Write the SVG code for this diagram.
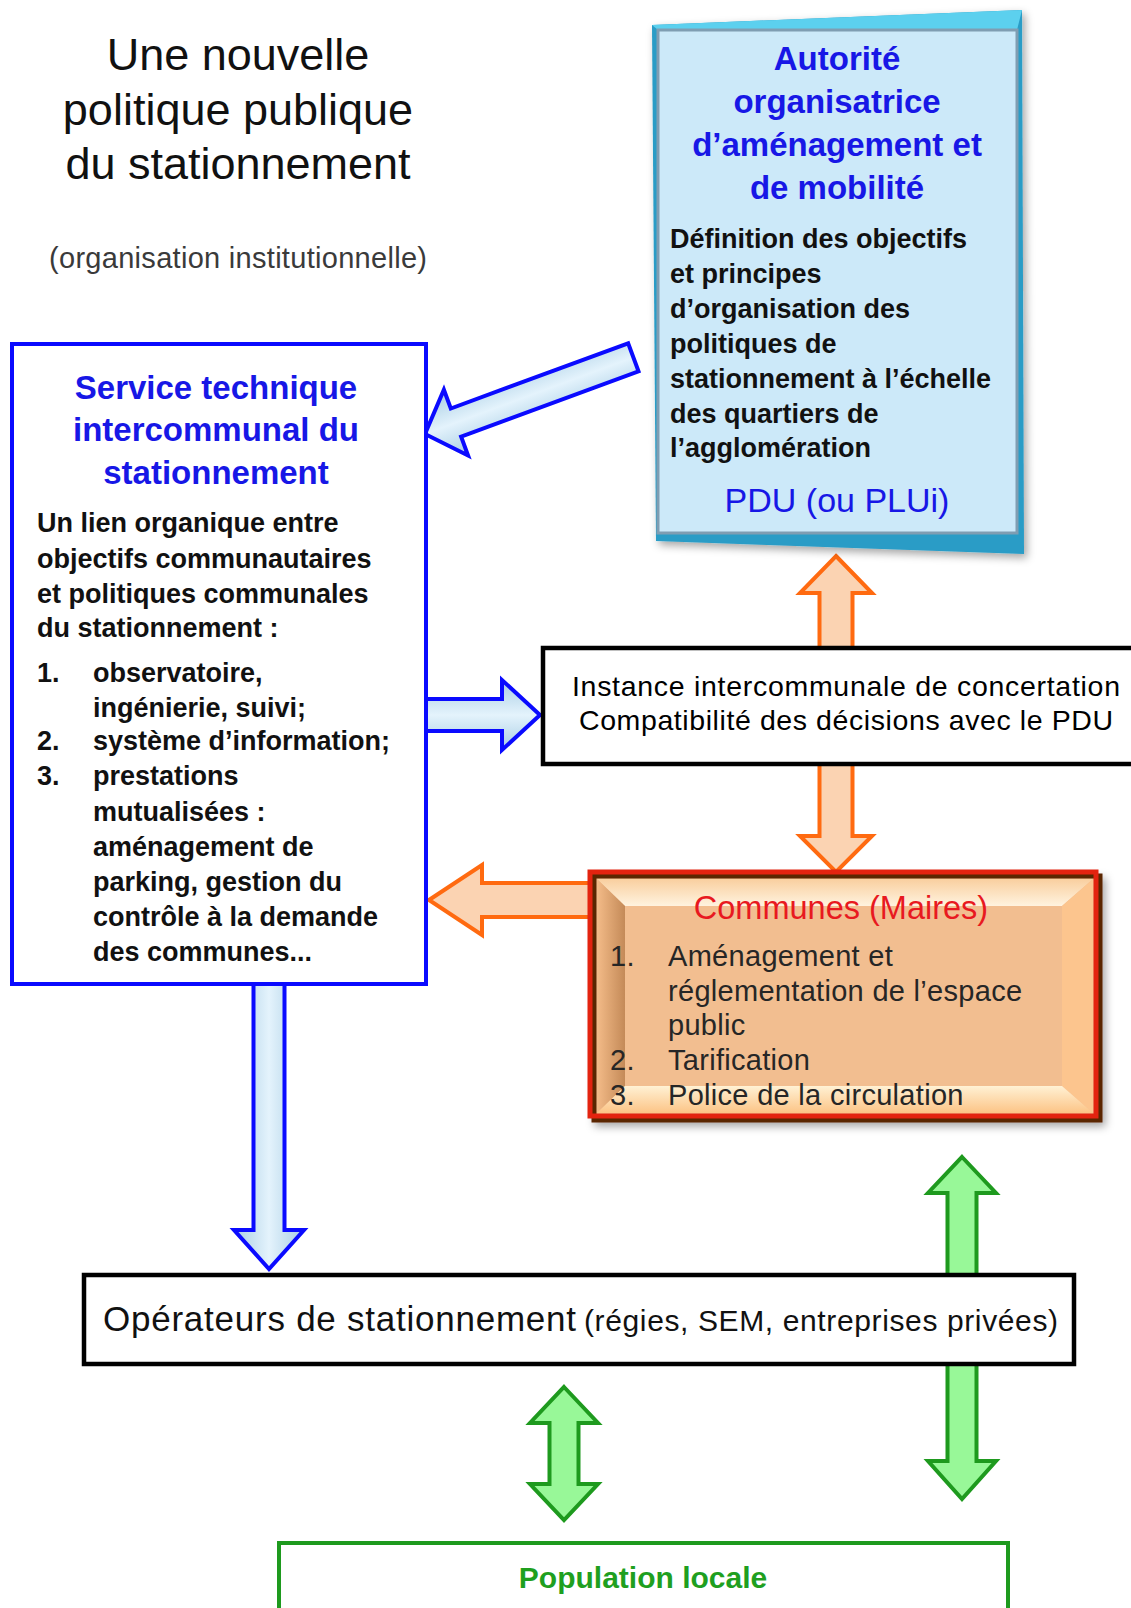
<svg xmlns="http://www.w3.org/2000/svg" width="1131" height="1608" viewBox="0 0 1131 1608">
<defs>
<style>
text{font-family:"Liberation Sans",Arial,sans-serif}
.title{font-size:45px;fill:#111;text-anchor:middle}
.sub{font-size:29px;fill:#3a3a3a;text-anchor:middle}
.bt{font-weight:bold;fill:#1717e6;text-anchor:middle;font-size:33px}
.body{font-weight:bold;fill:#111;font-size:27px}
.blue{fill:url(#gBlue);stroke:#0a0aff;stroke-width:4;stroke-linejoin:miter}
.orange{fill:#fbd3b2;stroke:#ff6a10;stroke-width:4}
.green{fill:#98f898;stroke:#1e9a1e;stroke-width:4}
.box{fill:#fff;stroke:#000;stroke-width:4.5}
.com{font-size:29px;fill:#262626;letter-spacing:0.3px}
</style>
<linearGradient id="gBlue" x1="0" y1="0" x2="0" y2="1">
<stop offset="0" stop-color="#a8cde4"/><stop offset="0.5" stop-color="#e4f3fc"/><stop offset="1" stop-color="#a8cde4"/>
</linearGradient>
<linearGradient id="gBlueH" x1="0" y1="0" x2="1" y2="0">
<stop offset="0" stop-color="#a8cde4"/><stop offset="0.5" stop-color="#e4f3fc"/><stop offset="1" stop-color="#a8cde4"/>
</linearGradient>
<linearGradient id="gTop" x1="0" y1="0" x2="0" y2="1">
<stop offset="0" stop-color="#f9cf9f"/><stop offset="1" stop-color="#fff3df"/>
</linearGradient>
<linearGradient id="gLeft" x1="0" y1="0" x2="1" y2="0">
<stop offset="0" stop-color="#f3bb88"/><stop offset="1" stop-color="#c48a58"/>
</linearGradient>
<linearGradient id="gBot" x1="0" y1="0" x2="0" y2="1">
<stop offset="0" stop-color="#fff1d4"/><stop offset="1" stop-color="#fcc486"/>
</linearGradient>
<filter id="sh" x="-10%" y="-10%" width="120%" height="120%">
<feDropShadow dx="3" dy="4" stdDeviation="4" flood-color="#000" flood-opacity="0.35"/>
</filter>
</defs>
<rect width="1131" height="1608" fill="#fff"/>

<g id="title">
<text class="title" x="238" y="70">Une nouvelle</text>
<text class="title" x="238" y="125">politique publique</text>
<text class="title" x="238" y="179">du stationnement</text>
<text class="sub" x="238" y="268" textLength="378" lengthAdjust="spacing">(organisation institutionnelle)</text>
</g>

<g id="connectors">
<polygon class="blue" points="0,0 -33,-35 -33,-15 -222,-15 -222,15 -33,15 -33,35" transform="translate(425,434) rotate(159.8)"/>
<polygon class="blue" points="426,699 502,699 502,680 540,715 502,750 502,731 426,731"/>
<polygon points="253.5,984 284.5,984 284.5,1230 304,1230 269,1269 234,1230 253.5,1230" style="fill:url(#gBlueH);stroke:#0a0aff;stroke-width:4"/>
<polygon class="orange" points="836,556 872,593 852.5,593 852.5,836 872,836 836,872 800,836 819.5,836 819.5,593 800,593"/>
<polygon class="orange" points="429,900 482,865 482,883 600,883 600,917 482,917 482,935"/>
<polygon class="green" points="962,1157 996,1193 976.5,1193 976.5,1461 996,1461 962,1499 928,1461 947.5,1461 947.5,1193 928,1193"/>
<polygon class="green" points="564,1387 598,1423 578.5,1423 578.5,1484 598,1484 564,1520 530,1484 549.5,1484 549.5,1423 530,1423"/>
</g>

<g id="autorite">
<g filter="url(#sh)">
<polygon points="652,25 1022,10 1024,554 656,541" fill="#2a9cc6"/>
<polygon points="652,25 1022,10 1017,30 658,30" fill="#5cd0ee"/>
<rect x="658" y="30" width="359" height="503" fill="#cce9f9" stroke="#7f9db2" stroke-width="3"/>
</g>
<text class="bt" x="837" y="70">Autorité</text>
<text class="bt" x="837" y="113">organisatrice</text>
<text class="bt" x="837" y="156">d’aménagement et</text>
<text class="bt" x="837" y="199">de mobilité</text>
<text class="body" x="670" y="248">Définition des objectifs</text>
<text class="body" x="670" y="283">et principes</text>
<text class="body" x="670" y="318">d’organisation des</text>
<text class="body" x="670" y="353">politiques de</text>
<text class="body" x="670" y="388">stationnement à l’échelle</text>
<text class="body" x="670" y="423">des quartiers de</text>
<text class="body" x="670" y="457">l’agglomération</text>
<text x="837" y="512" style="font-size:34px;fill:#1717e6;text-anchor:middle">PDU (ou PLUi)</text>
</g>

<g id="service">
<rect x="12" y="344" width="414" height="640" fill="#fff" stroke="#0a0aff" stroke-width="4"/>
<text class="bt" x="216" y="399">Service technique</text>
<text class="bt" x="216" y="441">intercommunal du</text>
<text class="bt" x="216" y="484">stationnement</text>
<text class="body" x="37" y="532">Un lien organique entre</text>
<text class="body" x="37" y="568">objectifs communautaires</text>
<text class="body" x="37" y="603">et politiques communales</text>
<text class="body" x="37" y="637">du stationnement :</text>
<text class="body" x="37" y="682">1.</text>
<text class="body" x="93" y="682">observatoire,</text>
<text class="body" x="93" y="717">ingénierie, suivi;</text>
<text class="body" x="37" y="750">2.</text>
<text class="body" x="93" y="750">système d’information;</text>
<text class="body" x="37" y="785">3.</text>
<text class="body" x="93" y="785">prestations</text>
<text class="body" x="93" y="821">mutualisées :</text>
<text class="body" x="93" y="856">aménagement de</text>
<text class="body" x="93" y="891">parking, gestion du</text>
<text class="body" x="93" y="926">contrôle à la demande</text>
<text class="body" x="93" y="961">des communes...</text>
</g>

<g id="instance">
<rect class="box" x="543" y="648" width="604" height="116"/>
<text x="846" y="696" textLength="548" lengthAdjust="spacing" style="font-size:28.5px;fill:#000;text-anchor:middle">Instance intercommunale de concertation</text>
<text x="846" y="730" textLength="534" lengthAdjust="spacing" style="font-size:28.5px;fill:#000;text-anchor:middle">Compatibilité des décisions avec le PDU</text>
</g>

<g id="communes">
<g filter="url(#sh)">
<rect x="594" y="876" width="506" height="244" fill="#f2bf92" stroke="#5a2600" stroke-width="5"/>
</g>
<polygon points="597,879 1093,879 1062,906 625,906" fill="url(#gTop)"/>
<polygon points="597,879 625,906 625,1086 597,1113" fill="url(#gLeft)"/>
<polygon points="1093,879 1093,1113 1062,1086 1062,906" fill="#fcc58e"/>
<polygon points="597,1113 1093,1113 1062,1086 625,1086" fill="url(#gBot)"/>
<rect x="625" y="906" width="437" height="180" fill="#f2be90"/>
<rect x="590" y="872" width="506" height="244" fill="none" stroke="#e3230f" stroke-width="5"/>
<text x="841" y="919" style="font-size:32.5px;fill:#e8191f;text-anchor:middle">Communes (Maires)</text>
<text class="com" x="610" y="966">1.</text>
<text class="com" x="668" y="966">Aménagement et</text>
<text class="com" x="668" y="1001">réglementation de l’espace</text>
<text class="com" x="668" y="1035">public</text>
<text class="com" x="610" y="1070">2.</text>
<text class="com" x="668" y="1070">Tarification</text>
<text class="com" x="610" y="1105">3.</text>
<text class="com" x="668" y="1105">Police de la circulation</text>
</g>

<g id="operateurs">
<rect class="box" x="84" y="1275" width="990" height="89"/>
<text x="103" y="1331" textLength="473" lengthAdjust="spacing" style="font-size:35px;fill:#111">Opérateurs de stationnement</text>
<text x="584" y="1331" textLength="474" lengthAdjust="spacing" style="font-size:30px;fill:#111">(régies, SEM, entreprises privées)</text>
</g>

<g id="population">
<rect x="279" y="1543" width="729" height="100" fill="#fff" stroke="#1e9a1e" stroke-width="4"/>
<text x="643" y="1588" style="font-size:30px;font-weight:bold;fill:#1f9f1f;text-anchor:middle">Population locale</text>
</g>
</svg>
